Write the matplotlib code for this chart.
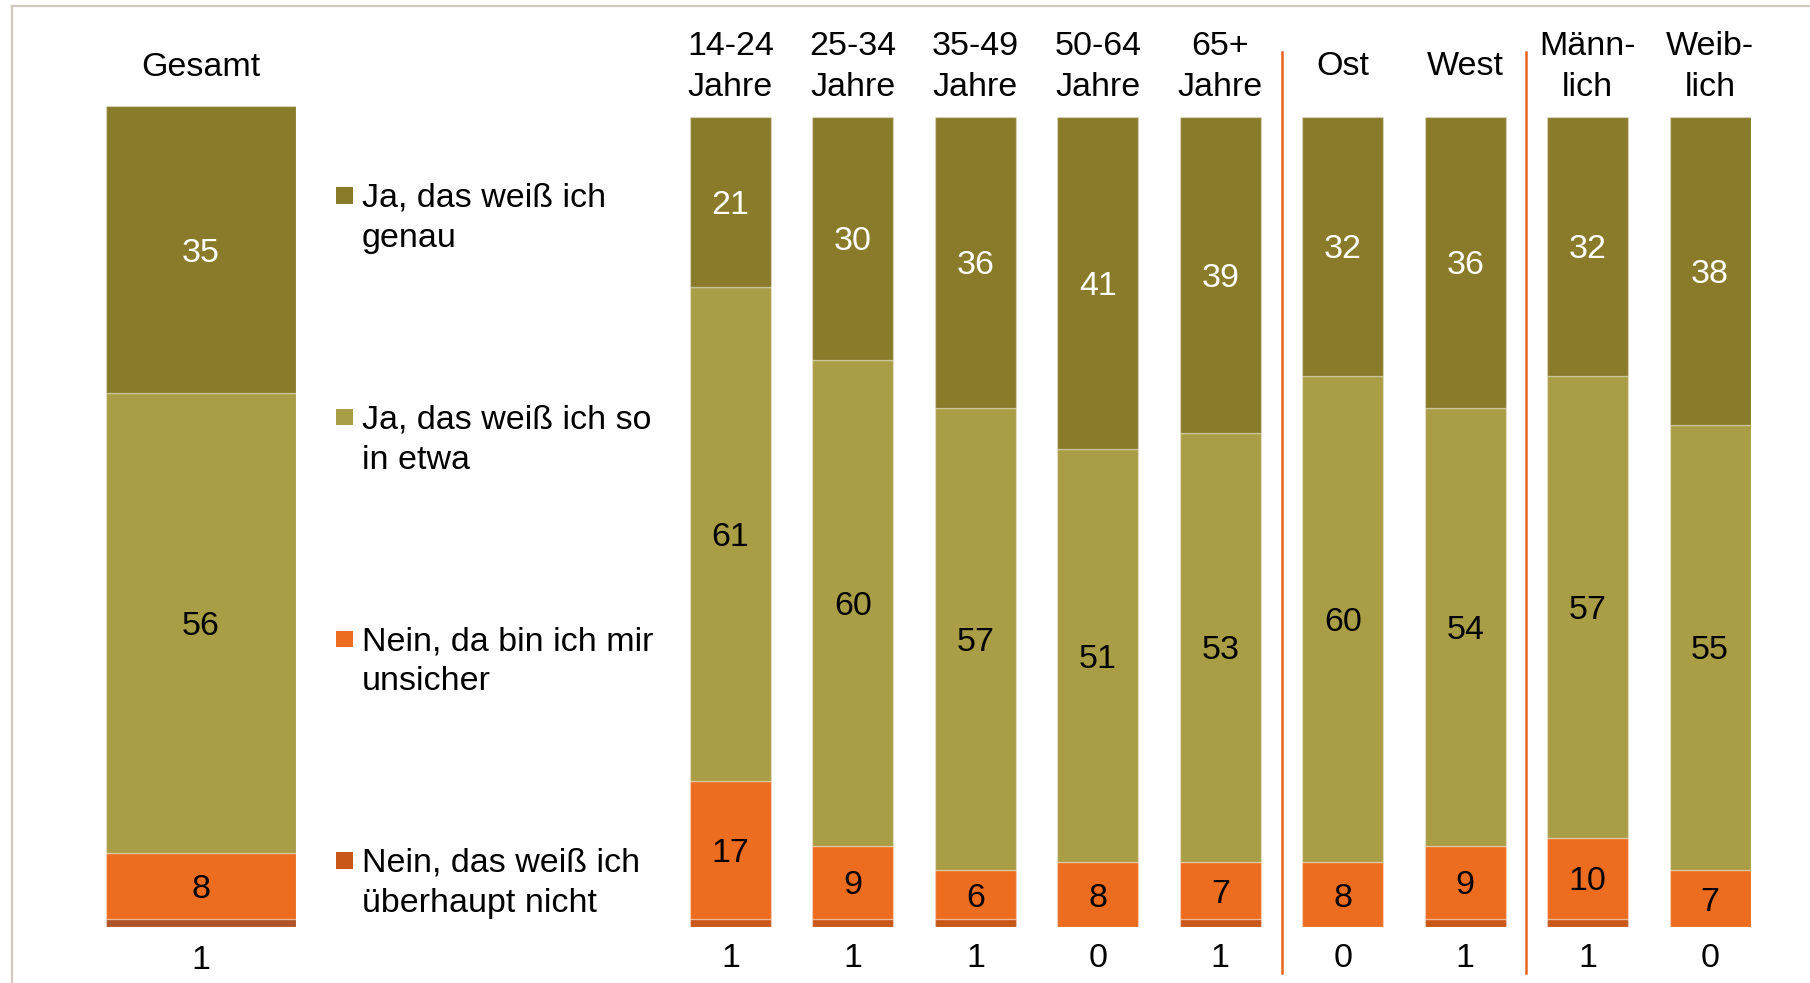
import matplotlib
matplotlib.use("Agg")
import matplotlib.pyplot as plt
from matplotlib.transforms import blended_transform_factory, offset_copy
from matplotlib.patches import Rectangle
from matplotlib.lines import Line2D

plt.rcParams['font.family'] = ['Liberation Sans', 'DejaVu Sans']

# ---------------- data ----------------
series_names = ["Ja, das weiß ich\ngenau",
                "Ja, das weiß ich so\nin etwa",
                "Nein, da bin ich mir\nunsicher",
                "Nein, das weiß ich\nüberhaupt nicht"]
colors = ["#8A7B2A", "#A99D46", "#EC6D1F", "#C85718"]
gesamt_rust = "#B05329"

total_label = "Gesamt"
total_values = [35, 56, 8, 1]

groups = ["14-24\nJahre", "25-34\nJahre", "35-49\nJahre", "50-64\nJahre", "65+\nJahre",
          "Ost", "West", "Männ-\nlich", "Weib-\nlich"]
genau = [21, 30, 36, 41, 39, 32, 36, 32, 38]
in_etwa = [61, 60, 57, 51, 53, 60, 54, 57, 55]
unsicher = [17, 9, 6, 8, 7, 8, 9, 10, 7]
gar_nicht = [1, 1, 1, 0, 1, 0, 1, 1, 0]
separators_after = [4, 6]   # vertical lines after these group indices

# ---------------- layout ----------------
W, H = 1810, 983
fig = plt.figure(figsize=(W / 100, H / 100), dpi=100)
FS = 24.5
edge = (1, 1, 1, 0.3)

def fx(px):
    return px / W

def fy(py):
    return 1 - py / H

# frame lines (top and left)
fig.add_artist(Line2D([fx(12), 1], [fy(6), fy(6)], color="#D0CABE", lw=1.6, transform=fig.transFigure))
fig.add_artist(Line2D([fx(12), fx(12)], [fy(6), 0], color="#D0CABE", lw=1.6, transform=fig.transFigure))

# ---- Gesamt axes
ax1 = fig.add_axes([fx(106), fy(927), (296 - 106) / W, (927 - 106) / H])
ax1.set_xlim(-0.5, 0.5)
ax1.set_ylim(0, 100)
ax1.axis("off")
lab1 = offset_copy(ax1.transData, fig=fig, y=-12, units="dots")
stack_order = [3, 2, 1, 0]
bottom = 0
for k in stack_order:
    v = total_values[k]
    c = gesamt_rust if k == 3 else colors[k]
    ax1.bar(0, v, width=1.0, bottom=bottom, color=c, edgecolor=edge, linewidth=1)
    if k != 3:
        ax1.text(0, bottom + v / 2, f"{v}", ha="center", va="baseline", fontsize=FS,
                 color="white" if k == 0 else "black", transform=lab1)
    bottom += v
tr1 = blended_transform_factory(ax1.transData, fig.transFigure)
ax1.text(0, fy(76), total_label, ha="center", va="baseline", fontsize=FS, transform=tr1)
ax1.text(0, fy(969), f"{total_values[3]}", ha="center", va="baseline", fontsize=FS, transform=tr1)

# ---- group axes
n = len(groups)
bw = 81 / 122.4
ax2 = fig.add_axes([fx(690), fy(927), (1750.6 - 690) / W, (927 - 116.6) / H])
ax2.set_xlim(-bw / 2, n - 1 + bw / 2)
ax2.set_ylim(0, 100)
ax2.axis("off")
lab2 = offset_copy(ax2.transData, fig=fig, y=-12, units="dots")
data = [genau, in_etwa, unsicher, gar_nicht]
xs = list(range(n))
bottoms = [0] * n
for k in stack_order:
    vals = data[k]
    ax2.bar(xs, vals, width=bw, bottom=bottoms, color=colors[k], edgecolor=edge, linewidth=1)
    if k != 3:
        for i in xs:
            ax2.text(i, bottoms[i] + vals[i] / 2, f"{vals[i]}", ha="center", va="baseline",
                     fontsize=FS, color="white" if k == 0 else "black", transform=lab2)
    bottoms = [b + v for b, v in zip(bottoms, vals)]

tr2 = blended_transform_factory(ax2.transData, fig.transFigure)
for i, g in enumerate(groups):
    lines = g.split("\n")
    if len(lines) == 2:
        ax2.text(i, fy(55), lines[0], ha="center", va="baseline", fontsize=FS, transform=tr2)
        ax2.text(i, fy(95.5), lines[1], ha="center", va="baseline", fontsize=FS, transform=tr2)
    else:
        ax2.text(i, fy(75), lines[0], ha="center", va="baseline", fontsize=FS, transform=tr2)
    ax2.text(i, fy(967), f"{gar_nicht[i]}", ha="center", va="baseline", fontsize=FS, transform=tr2)

for s in separators_after:
    ax2.add_artist(Line2D([s + 0.5, s + 0.5], [fy(52), fy(973)], color="#E8641E", lw=1.8,
                          transform=tr2, clip_on=False))

# ---- legend (manual)
for j, name in enumerate(series_names):
    base = 206.7 + 221.7 * j
    fig.add_artist(Rectangle((fx(336), fy(base - 3)), 16.5 / W, 16.5 / H, transform=fig.transFigure,
                             color=colors[j], lw=0))
    l1, l2 = name.split("\n")
    fig.text(fx(361.5), fy(base), l1, ha="left", va="baseline", fontsize=FS)
    fig.text(fx(361.5), fy(base + 40.4), l2, ha="left", va="baseline", fontsize=FS)

fig.savefig("out.png", dpi=100, facecolor="white")
